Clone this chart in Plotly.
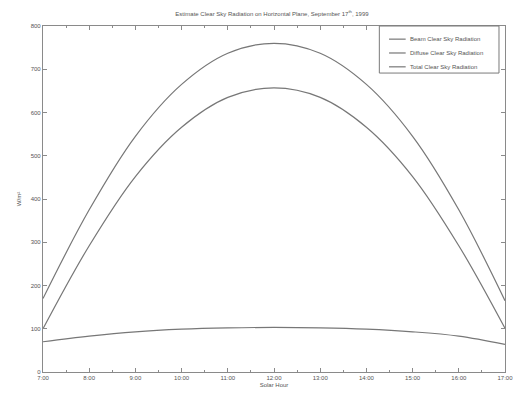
import plotly.graph_objects as go

# Solar hour (h) and clear-sky irradiance on a horizontal plane (W/m^2)
hours = [7, 8, 9, 10, 11, 12, 13, 14, 15, 16, 17]
hour_labels = ["7:00", "8:00", "9:00", "10:00", "11:00", "12:00",
               "13:00", "14:00", "15:00", "16:00", "17:00"]
beam = [100, 292, 452, 566, 635, 657, 635, 566, 452, 292, 101]
diffuse = [70, 83, 93, 99, 102, 103, 102, 99, 93, 83, 64]
total = [b + d for b, d in zip(beam, diffuse)]
y_ticks = [0, 100, 200, 300, 400, 500, 600, 700, 800]

series = [
    ("Beam Clear Sky Radiation", beam),
    ("Diffuse Clear Sky Radiation", diffuse),
    ("Total Clear Sky Radiation", total),
]

FONT = "Liberation Sans, Arial, sans-serif"
LINE = "#777777"
TEXT = "#555555"
AXIS = "#8a8a8a"

fig = go.Figure()
for name, vals in series:
    fig.add_trace(go.Scatter(
        x=hours, y=vals, name=name, mode="lines", showlegend=False,
        line=dict(color=LINE, width=1.2, shape="spline", smoothing=1.0),
    ))

# Compact boxed legend in the upper-right corner of the axes
box_x0, box_x1 = 0.728, 0.987
box_y0, box_y1 = 0.864, 1.0
row_y = [0.962, 0.922, 0.882]
fig.add_shape(type="rect", xref="paper", yref="paper",
              x0=box_x0, x1=box_x1, y0=box_y0, y1=box_y1,
              line=dict(color="#7a7a7a", width=1), fillcolor="white", layer="above")
for (name, _), ry in zip(series, row_y):
    fig.add_shape(type="line", xref="paper", yref="paper",
                  x0=0.749, x1=0.785, y0=ry, y1=ry,
                  line=dict(color=LINE, width=1.2), layer="above")
    fig.add_annotation(text=name, xref="paper", yref="paper", x=0.791, y=ry,
                       xanchor="left", yanchor="middle", showarrow=False,
                       font=dict(family=FONT, size=6, color=TEXT))

axis_common = dict(
    showgrid=False, zeroline=False, showline=True, linecolor=AXIS,
    linewidth=1.2, mirror="ticks", ticks="inside", ticklen=4,
    tickcolor=AXIS, tickfont=dict(family=FONT, size=6, color=TEXT),
)

fig.update_layout(
    width=523, height=397,
    margin=dict(l=43, r=10, t=26, b=25),
    paper_bgcolor="white", plot_bgcolor="white",
    font=dict(family=FONT, size=6, color=TEXT),
    title=dict(
        text="Estimate Clear Sky Radiation on Horizontal Plane, September 17<sup>th</sup>, 1999",
        x=0.52, xanchor="center", y=0.965, yanchor="middle",
        font=dict(family=FONT, size=6, color=TEXT),
    ),
    xaxis=dict(
        range=[7, 17], tickvals=hours, ticktext=hour_labels,
        title=dict(text="Solar Hour", standoff=2, font=dict(size=6)),
        minor=dict(ticks="inside", ticklen=2, dtick=0.5, tickcolor=AXIS),
        **axis_common,
    ),
    yaxis=dict(
        range=[0, 800], tickvals=y_ticks,
        title=dict(text="W/m²", standoff=8, font=dict(size=6)),
        **axis_common,
    ),
    showlegend=False,
)

fig.write_html("out.html")
